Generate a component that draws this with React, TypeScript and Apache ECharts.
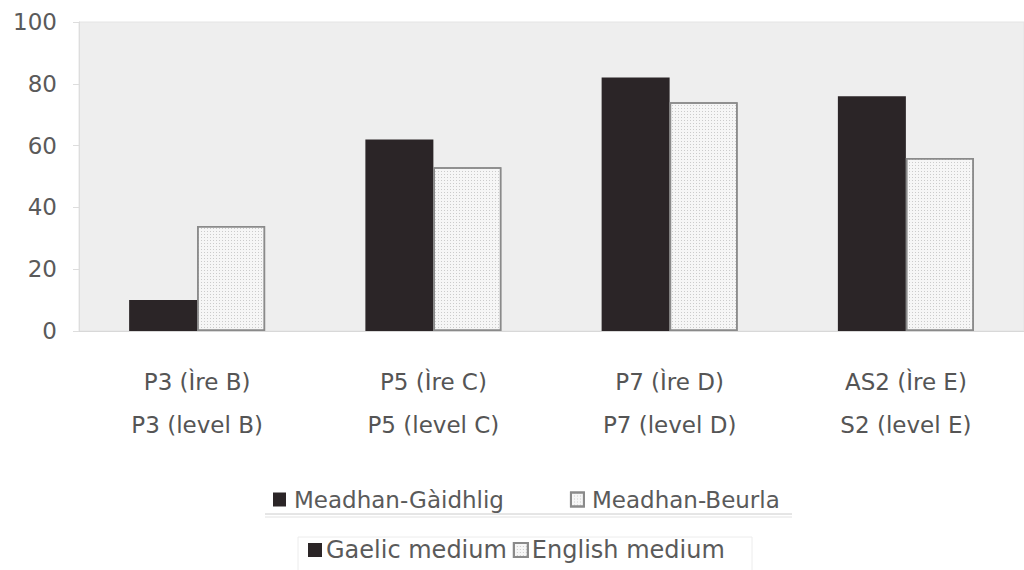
import React, { useEffect, useRef } from "react";
import * as echarts from "echarts";

const gaelicLevels = ["P3 (Ìre B)", "P5 (Ìre C)", "P7 (Ìre D)", "AS2 (Ìre E)"];
const englishLevels = ["P3 (level B)", "P5 (level C)", "P7 (level D)", "S2 (level E)"];
const gaelicMedium = [10, 62, 82, 76];
const englishMedium = [34, 53, 74, 56];
const seriesNames = ["Gaelic medium", "English medium"];
const gaelicSeriesNames = ["Meadhan-Gàidhlig", "Meadhan-Beurla"];
const yTicks = [0, 20, 40, 60, 80, 100];

export default function App() {
  const ref = useRef<HTMLDivElement>(null);
  useEffect(() => {
    if (!ref.current) return;
    const chart = echarts.init(ref.current, undefined, { renderer: "svg" });
    const categories = gaelicLevels.map((g, i) => g + "\n" + englishLevels[i]);
    const font = "'DejaVu Sans', sans-serif";
    chart.setOption({
      animation: false,
      backgroundColor: "#ffffff",
      textStyle: { fontFamily: font },
      grid: {
        left: 79,
        right: -12,
        top: 22,
        height: 309,
        show: true,
        backgroundColor: "#eeeeee",
        borderColor: "#e4e4e4",
        borderWidth: 1,
      },
      xAxis: {
        type: "category",
        data: categories,
        axisLine: { show: true, lineStyle: { color: "#d8d8d8", width: 1 } },
        axisTick: { show: false },
        axisLabel: {
          color: "#555",
          fontSize: 23,
          lineHeight: 43,
          margin: 29,
          fontFamily: font,
        },
      },
      yAxis: {
        type: "value",
        min: yTicks[0],
        max: yTicks[yTicks.length - 1],
        interval: 20,
        axisLine: { show: true, lineStyle: { color: "#dddddd" } },
        axisTick: { show: true, length: 6, lineStyle: { color: "#dddddd" } },
        splitLine: { show: false },
        axisLabel: { color: "#5a5a5a", fontSize: 23, margin: 22, fontFamily: font },
      },
      legend: [
        {
          left: 268,
          top: 483,
          icon: "rect",
          itemWidth: 13,
          itemHeight: 14,
          itemGap: 66,
          data: seriesNames,
          formatter: (n: string) => gaelicSeriesNames[seriesNames.indexOf(n)],
          textStyle: { color: "#5a5a5a", fontSize: 23, fontFamily: font, padding: [0, 0, 0, 3] },
        },
        {
          left: 303,
          top: 533,
          icon: "rect",
          itemWidth: 14,
          itemHeight: 14,
          itemGap: 6,
          data: seriesNames,
          textStyle: { color: "#5a5a5a", fontSize: 24, fontFamily: font, padding: [0, 0, 0, -1] },
        },
      ],
      graphic: [
        {
          type: "line",
          shape: { x1: 265, y1: 514, x2: 792, y2: 514 },
          style: { stroke: "#cccccc", lineWidth: 1 },
        },
        {
          type: "line",
          shape: { x1: 265, y1: 517, x2: 792, y2: 517 },
          style: { stroke: "#e2e2e2", lineWidth: 1 },
        },
        {
          type: "rect",
          shape: { x: 298, y: 537, width: 454, height: 40 },
          style: { fill: "none", stroke: "#ececec", lineWidth: 1 },
        },
      ],
      series: [
        {
          name: seriesNames[0],
          type: "bar",
          data: gaelicMedium,
          barWidth: 68,
          barGap: "0%",
          itemStyle: { color: "#2b2527" },
        },
        {
          name: seriesNames[1],
          type: "bar",
          data: englishMedium,
          barWidth: 68,
          itemStyle: {
            color: "#f6f6f6",
            borderColor: "#8a8a8a",
            borderWidth: 1.5,
            decal: {
              symbol: "rect",
              symbolSize: 1,
              dashArrayX: [1, 2],
              dashArrayY: [1, 2],
              color: "rgba(150,150,150,0.45)",
            },
          },
        },
      ],
    });
    return () => chart.dispose();
  }, []);
  return (
    <div
      ref={ref}
      style={{ position: "fixed", left: 0, top: 0, width: 1024, height: 570 }}
    />
  );
}
